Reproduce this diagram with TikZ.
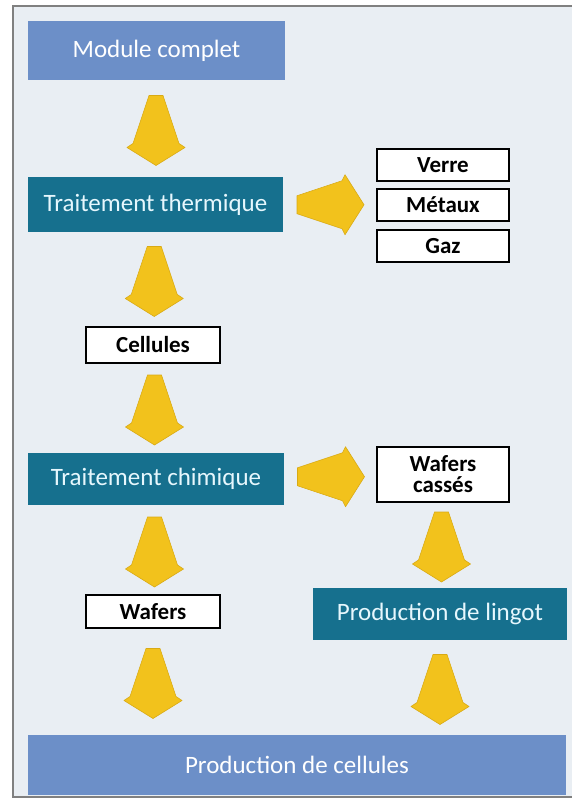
\documentclass[tikz,border=0pt]{standalone}
\usepackage{fontspec}
\setmainfont{Carlito}
\usetikzlibrary{positioning,calc}

\definecolor{fondgris}{HTML}{E9EEF3}
\definecolor{bleuclair}{HTML}{6C8FC8}
\definecolor{bleucanard}{HTML}{16708E}
\definecolor{jaune}{HTML}{F2C21C}
\definecolor{jaunebord}{HTML}{D9AA14}

\newcommand{\flechebas}[2]{%
	\draw[fleche] ($(#1)!0.5!(#2)$) ++(0,-2) +(-7,35) -- +(7,35) -- +(23,-13) -- +(29,-17)
		-- +(0,-35) -- +(-29,-17) -- +(-23,-13) -- cycle;
}
\newcommand{\flechedroite}[2]{%
	\draw[fleche] ($(#1)!0.5!(#2)$) +(-33,9) -- +(12,24) -- +(15,30) -- +(34,0)
		-- +(15,-30) -- +(12,-24) -- +(-33,-9) -- cycle;
}

\begin{document}
\begin{tikzpicture}[x=1pt,y=1pt,
	bleu/.style={fill=bleuclair,text=white},
	canard/.style={fill=bleucanard,text=white!90!cyan},
	blanc/.style={fill=white,draw=black,line width=1.6pt,font=\fontsize{23}{21}\selectfont\bfseries,align=center},
	fleche/.style={fill=jaune,draw=jaunebord,line width=0.6pt,line join=round}]

	\useasboundingbox (0,0) rectangle (572,-799);
	\fill[fondgris] (13,-6) rectangle (572,-797);
	\draw[gray,line width=1.2pt] (572,-6) -- (13,-6) -- (13,-797) -- (572,-797);

	\begin{scope}[every node/.style={rectangle,outer sep=0pt,inner sep=0pt,font=\fontsize{25}{25}\selectfont}]
		\node[bleu,minimum width=257,minimum height=59] (modc) at (156.5,-50.5) {Module complet};
		\node[canard,minimum width=255,minimum height=55] (thermo) at (155.5,-204.5) {Traitement thermique};
		\node[blanc,minimum width=132,minimum height=32] (verre) at (443,-165) {Verre};
		\node[blanc,minimum width=132,minimum height=32] (metaux) [below=8pt of verre] {Métaux};
		\node[blanc,minimum width=132,minimum height=32] (gaz) [below=9pt of metaux] {Gaz};
		\node[blanc,minimum width=134,minimum height=36] (cellules) at (153,-345) {Cellules};
		\node[canard,minimum width=256,minimum height=52] (chimique) at (156,-479) {Traitement chimique};
		\node[blanc,minimum width=132,minimum height=55] (wafersc) at (443,-474.5) {Wafers\\cassés};
		\node[blanc,minimum width=134,minimum height=33] (wafers) at (153,-611.5) {Wafers};
		\node[canard,minimum width=254,minimum height=52] (lingot) at (440,-614) {Production de lingot};
		\node[bleu,minimum width=538,minimum height=60] (cellprod) at (297,-765) {Production de cellules};
	\end{scope}

	\coordinate (piedg) at (wafers.south |- cellprod.north);
	\coordinate (piedd) at (lingot.south |- cellprod.north);

	\flechebas{modc.south}{thermo.north}
	\flechebas{thermo.south}{cellules.north}
	\flechebas{cellules.south}{chimique.north}
	\flechebas{chimique.south}{wafers.north}
	\flechebas{wafers.south}{piedg}
	\flechebas{wafersc.south}{lingot.north}
	\flechebas{lingot.south}{piedd}
	\flechedroite{thermo.east}{metaux.west}
	\flechedroite{chimique.east}{wafersc.west}

\end{tikzpicture}
\end{document}
